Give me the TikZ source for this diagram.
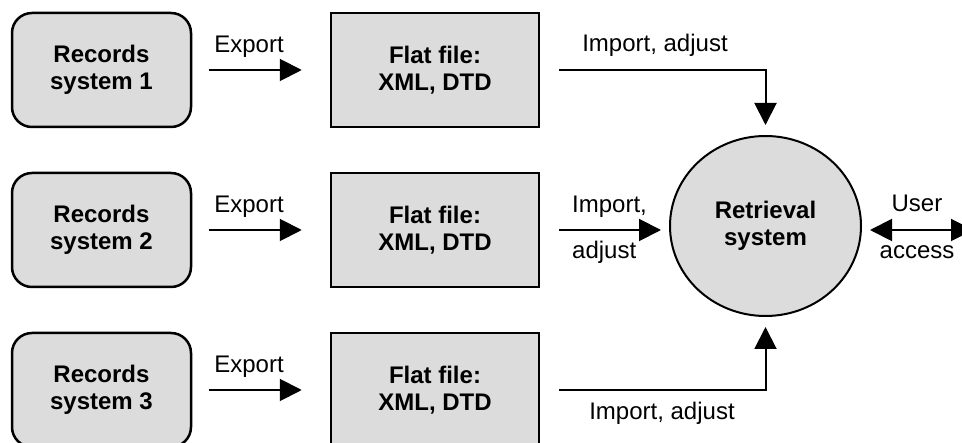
\documentclass[tikz,border=0pt]{standalone}
\usepackage{fontspec}
\setmainfont{Liberation Sans}
\usetikzlibrary{arrows.meta,shapes.geometric,calc}
\definecolor{boxgray}{HTML}{DCDCDC}
\begin{document}
\begin{tikzpicture}[x=1pt,y=-1pt,
  base/.style={draw=black, fill=boxgray, align=center, inner sep=0pt,
    font=\bfseries\fontsize{24}{27}\selectfont},
  recbox/.style={base, line width=2.5pt, rounded corners=20pt,
    minimum width=179pt, minimum height=114pt},
  filebox/.style={base, line width=2.5pt,
    minimum width=208pt, minimum height=114pt},
  retr/.style={base, ellipse, line width=2pt,
    minimum width=191pt, minimum height=180pt},
  lbl/.style={font=\fontsize{24}{27}\selectfont, inner sep=0pt, anchor=base},
  conn/.style={line width=2pt, -{Triangle[length=22pt,width=22pt]}},
  dconn/.style={line width=2pt, {Triangle[length=22pt,width=22pt]}-{Triangle[length=22pt,width=22pt]}}
]
\useasboundingbox (0,0) rectangle (962,443);

\node[recbox] (r1) at (101.5,70) {Records\\system 1};
\node[recbox] (r2) at (101.5,230) {Records\\system 2};
\node[recbox] (r3) at (101.5,390) {Records\\system 3};

\node[filebox] (f1) at (435,70) {Flat file:\\XML, DTD};
\node[filebox] (f2) at (435,230) {Flat file:\\XML, DTD};
\node[filebox] (f3) at (435,390) {Flat file:\\XML, DTD};

\node[retr] (ret) at (765.5,226) {Retrieval\\system};

% export arrows
\foreach \i in {1,2,3}{
  \draw[conn] ([xshift=17pt]r\i.east) -- ([xshift=-28pt]f\i.west);
}
\node[lbl] (e1) at (249,53) {Export};
\node[lbl] (e2) at (249,213) {Export};
\node[lbl] (e3) at (249,373) {Export};

% import arrows
\draw[conn] ([xshift=19pt]f1.east) -| ([yshift=10pt]ret.north);
\draw[conn] ([xshift=19pt]f2.east) -- ($(f2.east -| ret.west)+(-8,0)$);
\draw[conn] ([xshift=19pt]f3.east) -| ([yshift=-10pt]ret.south);

\node[lbl] (i1) at (655,52) {Import, adjust};
\node[lbl, anchor=base west] (i2a) at (572,213) {Import,};
\node[lbl, anchor=base west] (i2b) at (572,259) {adjust};
\node[lbl] (i3) at (662,420) {Import, adjust};

% user access
\coordinate (ua) at (973,230);
\draw[dconn] ($(f2.east -| ret.east)+(8,0)$) -- (ua);
\node[lbl] (u1) at (917,212) {User};
\node[lbl] (u2) at (917,259) {access};
\end{tikzpicture}
\end{document}
